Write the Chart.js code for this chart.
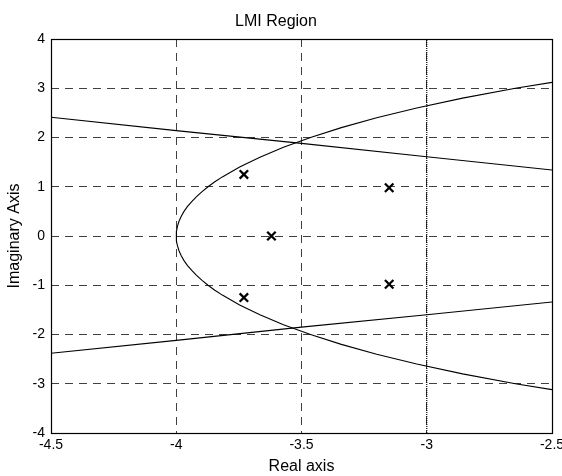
<!DOCTYPE html>
<html>
<head>
<meta charset="utf-8">
<script src="https://cdn.jsdelivr.net/npm/chart.js@4/dist/chart.umd.min.js"></script>
<style>
  html, body { margin: 0; padding: 0; background: #fff; }
  #wrap { width: 562px; height: 476px; }
</style>
</head>
<body>
<div id="wrap"><canvas id="c" width="562" height="476"></canvas></div>
<script>
// Circular boundary |s| = r of the LMI region (real, imaginary parts)
const arcRe = [-2.500, -2.646, -2.857, -3.040, -3.200, -3.341, -3.464, -3.572, -3.666, -3.747, -3.816, -3.846, -3.873, -3.897,
               -3.919, -3.938, -3.955, -3.969, -3.980, -3.989, -3.995, -3.999, -4.000,
               -3.999, -3.995, -3.989, -3.980, -3.969, -3.955, -3.938, -3.919, -3.897, -3.873, -3.846, -3.816, -3.747,
               -3.666, -3.572, -3.464, -3.341, -3.200, -3.040, -2.857, -2.646, -2.500];
const arcIm = [3.12, 3.00, 2.80, 2.60, 2.40, 2.20, 2.00, 1.80, 1.60, 1.40, 1.20, 1.10, 1.00, 0.90,
               0.80, 0.70, 0.60, 0.50, 0.40, 0.30, 0.20, 0.10, 0.00,
               -0.10, -0.20, -0.30, -0.40, -0.50, -0.60, -0.70, -0.80, -0.90, -1.00, -1.10, -1.20, -1.40,
               -1.60, -1.80, -2.00, -2.20, -2.40, -2.60, -2.80, -3.00, -3.12];

// Conic sector boundary lines
const sectorRe = [-4.5, -4.0, -3.5, -3.0, -2.5];
const sectorImUpper = [2.41, 2.14, 1.88, 1.61, 1.34];
const sectorImLower = [-2.38, -2.12, -1.85, -1.60, -1.34];

// Vertical half-plane boundary Re(s) = -3
const stripRe = [-3, -3];
const stripIm = [-4, 4];

// Closed-loop poles
const poleRe = [-3.73, -3.73, -3.62, -3.15, -3.15];
const poleIm = [1.25, -1.25, 0.00, 0.98, -0.98];

// Axis ticks
const xTicks = [-4.5, -4, -3.5, -3, -2.5];
const yTicks = [-4, -3, -2, -1, 0, 1, 2, 3, 4];

const pts = (xs, ys) => xs.map((x, i) => ({ x: x, y: ys[i] }));
const FONT = "'Liberation Sans', Arial, Helvetica, sans-serif";

const lineSet = (data, extra) => Object.assign({
  data: data, showLine: true, pointRadius: 0, pointHoverRadius: 0,
  borderColor: '#000', borderWidth: 1.1, fill: false, tension: 0
}, extra || {});

const boxPlugin = {
  id: 'box',
  afterDraw(chart) {
    const { ctx, chartArea: a } = chart;
    ctx.save();
    ctx.strokeStyle = '#000';
    ctx.lineWidth = 1.2;
    ctx.strokeRect(Math.round(a.left) + 0.5, Math.round(a.top) + 0.5,
                   Math.round(a.right - a.left), Math.round(a.bottom - a.top));
    ctx.restore();
  }
};

new Chart(document.getElementById('c'), {
  type: 'scatter',
  data: {
    datasets: [
      lineSet(pts(arcRe, arcIm)),
      lineSet(pts(sectorRe, sectorImUpper)),
      lineSet(pts(sectorRe, sectorImLower)),
      lineSet(pts(stripRe, stripIm), { borderDash: [1, 1], borderWidth: 1.2 }),
      {
        data: pts(poleRe, poleIm), showLine: false,
        pointStyle: 'crossRot', pointRadius: 6, pointHoverRadius: 6,
        borderColor: '#000', backgroundColor: '#000', pointBorderWidth: 2.3
      }
    ]
  },
  options: {
    responsive: false,
    animation: false,
    events: [],
    layout: { padding: { left: 0, right: 10, top: 0, bottom: 0 } },
    plugins: {
      legend: { display: false },
      tooltip: { enabled: false },
      title: {
        display: true, text: 'LMI Region', color: '#000',
        font: { family: FONT, size: 16, weight: 'normal' },
        padding: { top: 12, bottom: 7.8 }
      }
    },
    scales: {
      x: {
        type: 'linear', min: -4.5, max: -2.5,
        afterBuildTicks: s => { s.ticks = xTicks.map(v => ({ value: v })); },
        afterFit: s => { s.height = 43; s.paddingLeft = 0; s.paddingRight = 0; },
        ticks: { color: '#000', padding: 4, maxRotation: 0, autoSkip: false,
                 callback: v => String(v),
                 font: { family: FONT, size: 14 } },
        grid: { color: '#404040', lineWidth: 1, drawTicks: false },
        border: { display: false, dash: [8, 6] },
        title: { display: true, text: 'Real axis', color: '#000',
                 font: { family: FONT, size: 16 }, padding: { top: 0, bottom: 0 } }
      },
      y: {
        type: 'linear', min: -4, max: 4,
        afterBuildTicks: s => { s.ticks = yTicks.map(v => ({ value: v })); },
        afterFit: s => { s.width = 51; s.paddingTop = 0; s.paddingBottom = 0; },
        ticks: { color: '#000', padding: 6, autoSkip: false,
                 callback: v => String(v),
                 font: { family: FONT, size: 14 } },
        grid: { color: '#404040', lineWidth: 1, drawTicks: false },
        border: { display: false, dash: [8, 6] },
        title: { display: true, text: 'Imaginary Axis', color: '#000',
                 font: { family: FONT, size: 16 }, padding: { top: 5, bottom: 0 } }
      }
    }
  },
  plugins: [boxPlugin]
});
</script>
</body>
</html>
